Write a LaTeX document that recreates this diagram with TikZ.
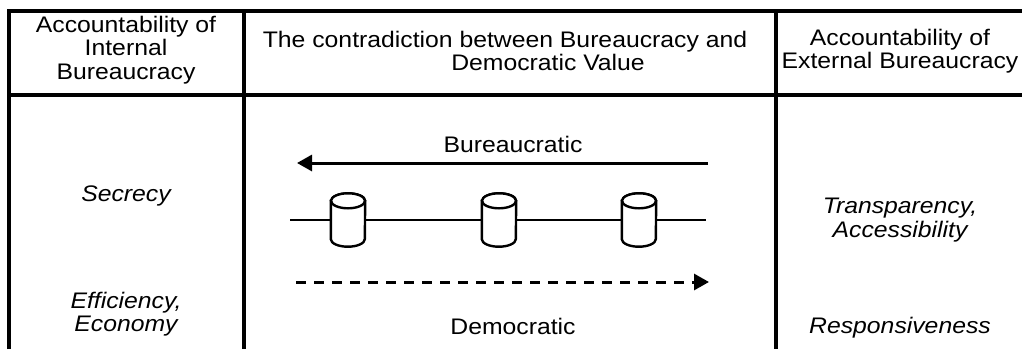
\documentclass[tikz,border=0pt]{standalone}
\usepackage{fontspec}
\setmainfont{Liberation Sans}[FakeStretch=1.1]
\usetikzlibrary{arrows.meta}
\begin{document}
\begin{tikzpicture}[x=1pt,y=-1pt,
  grid/.style={line width=3.2pt},
  label/.style={font=\fontsize{22.5}{23.5}\selectfont, align=center, inner sep=0pt},
  value/.style={label, font=\fontsize{22.5}{23.5}\selectfont\itshape},
  drum/.style={rectangle, minimum width=34pt, minimum height=53pt, inner sep=0pt},
  drumline/.style={line width=2.4pt, fill=white},
  flow/.style={line width=3pt, -{Triangle[length=15pt,width=16pt]}},
  rail/.style={line width=2.4pt}]
\useasboundingbox (0,0) rectangle (1022,349);

% table frame
\draw[grid] (9,349) -- (9,11) -- (1022,11);
\draw[grid] (9,95) -- (1022,95);
\draw[grid] (244,11) -- (244,349);
\draw[grid] (776,11) -- (776,349);

% column headings
\node[label] (hInt) at (126,50) {Accountability of\\Internal\\Bureaucracy};
\node[label] (hMid) at (505,51) {The contradiction between Bureaucracy and\\\hspace*{86pt}Democratic Value};
\node[label] (hExt) at (900,51) {Accountability of\\External Bureaucracy};

% values of each side
\node[value] (secrecy) at (126,196) {Secrecy};
\node[value] (effic) at (126,314) {Efficiency,\\Economy};
\node[value] (transp) at (900,220) {Transparency,\\Accessibility};
\node[value] (respons) at (900,328) {Responsiveness};

% the two directions
\node[label] (bur) at (513,144) {Bureaucratic};
\node[label] (dem) at (513,326) {Democratic};
\coordinate (burR) at (708,163);
\coordinate (burL) at (297,163);
\draw[flow] (burR) -- (burL);
\coordinate (demL) at (296,282);
\coordinate (demR) at (709,282);
\draw[flow, dash pattern=on 10pt off 8pt] (demL) -- (demR);

% rail with three drums
\coordinate (railL) at (290,220);
\coordinate (railR) at (706,220);
\node[drum] (d1) at (348,220) {};
\node[drum] (d2) at (499,220) {};
\node[drum] (d3) at (639,220) {};
\draw[rail] (railL) -- (d1) (d1) -- (d2) (d2) -- (d3) (d3) -- (railR);
\foreach \d in {d1,d2,d3}{
  \draw[drumline] ([yshift=-7.5pt]\d.north west) -- ([yshift=7.5pt]\d.south west)
    arc[start angle=180, end angle=360, x radius=17pt, y radius=7.5pt]
    -- ([yshift=-7.5pt]\d.north east)
    arc[start angle=0, end angle=180, x radius=17pt, y radius=7.5pt] -- cycle;
  \draw[drumline] ([yshift=-7.5pt]\d.north) ellipse[x radius=17pt, y radius=7.5pt];
}
\end{tikzpicture}
\end{document}
